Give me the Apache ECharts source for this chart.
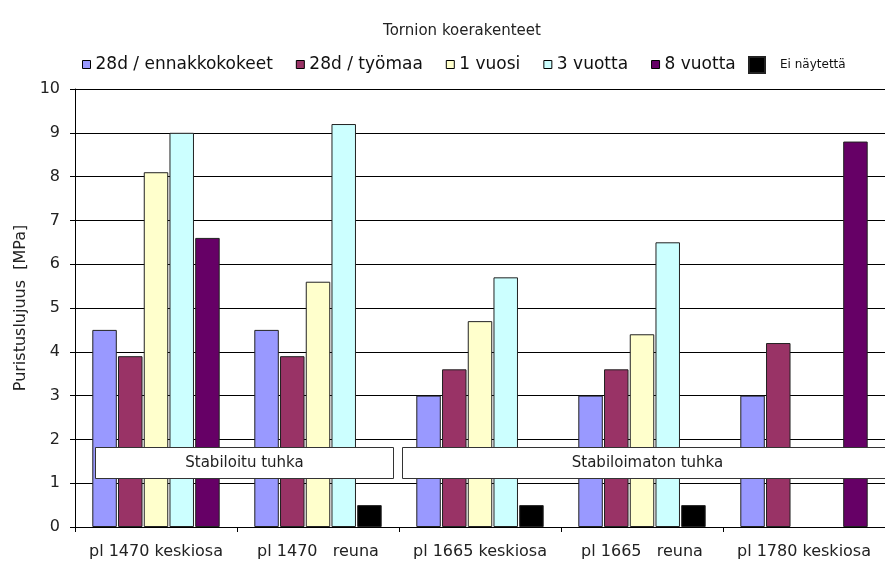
<!DOCTYPE html>
<html>
<head>
<meta charset="utf-8">
<script src="https://cdn.jsdelivr.net/npm/echarts@6/dist/echarts.min.js"></script>
<style>
  html, body { margin: 0; padding: 0; background: #fff; }
  #broken { width: 885px; height: 563px; }
</style>
</head>
<body>
<div id="broken"></div>
<script>
  // kohteet (x-akseli)
  const categories = ['pl 1470 keskiosa', 'pl 1470   reuna', 'pl 1665 keskiosa', 'pl 1665   reuna', 'pl 1780 keskiosa']
  const seriesNames = ['28d / ennakkokokeet', '28d / työmaa', '1 vuosi', '3 vuotta', '8 vuotta', 'Ei näytettä']
  // puristuslujuus MPa
  const ennakko28d = [4.5, 4.5, 3.0, 3.0, 3.0]
  const tyomaa28d = [3.9, 3.9, 3.6, 3.6, 4.2]
  const vuosi1 = [8.1, 5.6, 4.7, 4.4, null]
  const vuotta3 = [9.0, 9.2, 5.7, 6.5, null]
  const vuotta8 = [6.6, null, null, null, 8.8]
  const eiNaytetta = [null, 0.5, 0.5, 0.5, null]
  const yTicks = [0, 1, 2, 3, 4, 5, 6, 7, 8, 9, 10]

  const colors = ['#9999FF', '#993366', '#FFFFCC', '#CCFFFF', '#660066', '#000000']
  const font = 'DejaVu Sans, Verdana, sans-serif'

  let broken = echarts.init(document.getElementById('broken'))

  function bar(i, data, stack) {
    return {
      name: seriesNames[i],
      type: 'bar',
      stack: stack,
      barWidth: 24.5,
      barGap: '5%',
      itemStyle: {
        color: colors[i],
        borderColor: '#222',
        borderWidth: 1
      },
      data: data
    }
  }

  // tekstilaatikko pylväiden päällä
  function box(x, w, text) {
    return {
      type: 'group',
      left: x,
      top: 447,
      children: [
        {
          type: 'rect',
          z: 100,
          shape: { x: 0, y: 0, width: w, height: 31 },
          style: { fill: '#fff', stroke: '#333', lineWidth: 1 }
        },
        {
          type: 'text',
          z: 101,
          x: w / 2,
          y: 16,
          style: {
            text: text,
            fontSize: 15,
            fontFamily: font,
            fill: '#222',
            textAlign: 'center',
            textVerticalAlign: 'middle'
          }
        }
      ]
    }
  }

  let option = {
    animation: false,
    title: {
      text: 'Tornion koerakenteet',
      left: 457,
      top: 19,
      textAlign: 'center',
      textStyle: {
        color: '#222',
        fontSize: 15,
        fontWeight: 'normal',
        fontFamily: font
      }
    },
    legend: [
      {
        data: seriesNames.slice(0, 5),
        left: 82,
        top: 56,
        padding: 0,
        itemWidth: 8,
        itemHeight: 8,
        itemGap: 23,
        icon: 'rect',
        itemStyle: { borderColor: '#000', borderWidth: 1 },
        textStyle: { color: '#111', fontSize: 17, fontFamily: font }
      },
      {
        data: [seriesNames[5]],
        left: 748,
        top: 56,
        padding: 0,
        itemWidth: 16,
        itemHeight: 16,
        icon: 'rect',
        textStyle: { color: '#111', fontSize: 12, fontFamily: font, padding: [0, 0, 0, 10] }
      }
    ],
    grid: {
      left: 75,
      right: -5,
      top: 89,
      bottom: 36
    },
    xAxis: {
      type: 'category',
      data: categories,
      axisLine: { lineStyle: { color: '#000', width: 1 } },
      axisTick: { show: true, length: 5, lineStyle: { color: '#000' } },
      axisLabel: { color: '#222', fontSize: 16, fontFamily: font, margin: 17, interval: 0 }
    },
    yAxis: {
      type: 'value',
      min: yTicks[0],
      max: yTicks[yTicks.length - 1],
      interval: 1,
      name: 'Puristuslujuus  [MPa]',
      nameLocation: 'middle',
      nameGap: 45,
      nameTextStyle: { color: '#222', fontSize: 16, fontFamily: font },
      axisLine: { show: true, lineStyle: { color: '#000', width: 1 } },
      axisTick: { show: true, length: 5, lineStyle: { color: '#000' } },
      axisLabel: { color: '#222', fontSize: 16, fontFamily: font, margin: 15 },
      splitLine: { show: true, lineStyle: { color: '#000', width: 1 } }
    },
    series: [
      bar(0, ennakko28d),
      bar(1, tyomaa28d),
      bar(2, vuosi1),
      bar(3, vuotta3),
      bar(4, vuotta8, 'viimeinen'),
      bar(5, eiNaytetta, 'viimeinen')
    ],
    graphic: [
      box(95, 298, 'Stabiloitu tuhka'),
      box(402, 490, 'Stabiloimaton tuhka')
    ]
  }
  broken.setOption(option)
</script>
</body>
</html>
